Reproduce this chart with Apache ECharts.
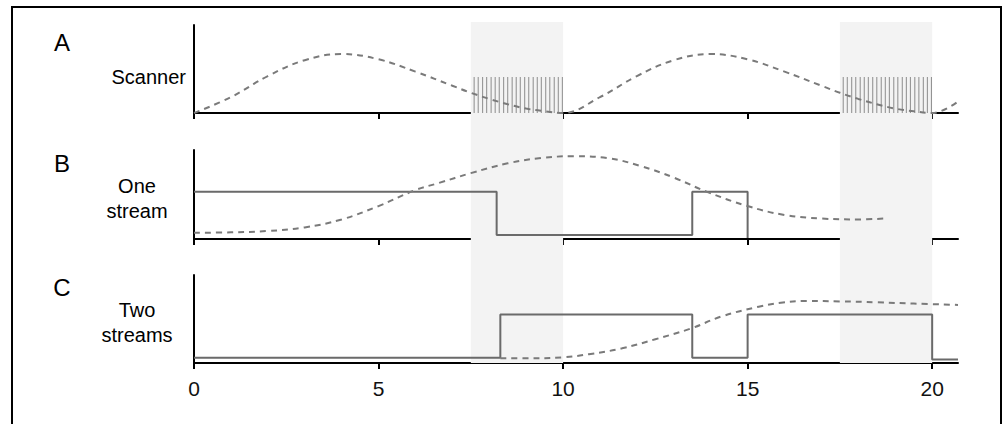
<!DOCTYPE html>
<html><head><meta charset="utf-8">
<script src="https://cdn.jsdelivr.net/npm/echarts@6/dist/echarts.min.js"></script>
<style>html,body{margin:0;padding:0;background:#fff}#c{width:1005px;height:424px}</style>
</head><body><div id="c"></div>
<script>
var tickValues = [0, 5, 10, 15, 20];
var scanWindows = [[7.5, 10], [17.5, 20]];
var scanNames = ['Scan X', 'Scan Y'];
// Panel A: scanner motion (dashed)
var scannerCurve = [[0,0],[1,0.18],[2,0.42],[3,0.6],[4,0.67],[5,0.61],[6,0.47],[7,0.31],[7.5,0.23],[8,0.16],[8.5,0.1],[9,0.05],[9.5,0.02],[10,0],
  [11,0.18],[12,0.42],[13,0.6],[14,0.67],[15,0.61],[16,0.47],[17,0.31],[17.5,0.23],[18,0.16],[18.5,0.1],[19,0.05],[19.5,0.02],[20,0],[20.7,0.13]];
// Panel A: acquisition pulses
var pulsesX = [7.59,7.70,7.82,7.93,8.05,8.16,8.27,8.39,8.50,8.62,8.73,8.84,8.96,9.07,9.19,9.30,9.41,9.53,9.64,9.76,9.87,9.98];
var pulsesY = [17.59,17.70,17.82,17.93,18.05,18.16,18.27,18.39,18.50,18.62,18.73,18.84,18.96,19.07,19.19,19.30,19.41,19.53,19.64,19.76,19.87,19.98];
var pulseHeight = 0.41;
// Panel B: one stream
var oneStreamStep = [[0,0.53],[8.2,0.53],[8.2,0.045],[13.5,0.045],[13.5,0.53],[15,0.53],[15,0.01]];
var oneStreamCurve = [[0,0.07],[1,0.075],[2,0.09],[3,0.13],[4,0.22],[5,0.37],[6,0.55],[6.64,0.63],[7.5,0.74],[8.5,0.85],[9.4,0.91],[10.3,0.93],[11.2,0.91],[12.1,0.82],[13,0.69],[13.9,0.53],[15,0.37],[16,0.27],[17,0.23],[18,0.22],[18.7,0.23]];
// Panel C: two streams
var twoStreamStep = [[0,0.06],[8.3,0.06],[8.3,0.55],[13.5,0.55],[13.5,0.06],[15,0.06],[15,0.55],[20,0.55],[20,0.04],[20.7,0.04]];
var twoStreamCurve = [[8.3,0.053],[9,0.053],[10,0.065],[10.7,0.1],[11.6,0.167],[12.5,0.27],[13.45,0.39],[14.3,0.53],[15.3,0.64],[15.9,0.685],[16.6,0.705],[17.5,0.7],[18.5,0.69],[19.5,0.675],[20.7,0.66]];
var panelLetters = ['A', 'B', 'C'];
var panelNames = ['Scanner', 'One\nstream', 'Two\nstreams'];

var chart = echarts.init(document.getElementById('c'), null, {renderer: 'svg'});
var L = 194, R = 47;
var grids = [
  {left: L, right: R, top: 25, height: 88},
  {left: L, right: R, top: 150, height: 89},
  {left: L, right: R, top: 275, height: 88},
  {left: L, right: R, top: 22, height: 341}
];
var font = 'Liberation Sans, Arial, sans-serif';
function xAx(i, showLabels) {
  return {
    type: 'value', gridIndex: i, min: 0, max: 20.7,
    show: i < 3,
    axisLine: {show: true, onZero: false, lineStyle: {color: '#000', width: 2}},
    axisTick: {show: true, length: 6, lineStyle: {color: '#000', width: 2}, customValues: tickValues},
    axisLabel: {show: showLabels, customValues: tickValues, color: '#111', fontSize: 21, fontFamily: font, margin: 15},
    splitLine: {show: false}
  };
}
function yAx(i) {
  return {
    type: 'value', gridIndex: i, min: 0, max: 1, show: i < 3,
    axisLine: {show: true, lineStyle: {color: '#000', width: 2}},
    axisTick: {show: false}, axisLabel: {show: false}, splitLine: {show: false}
  };
}
var dashStyle = {color: '#7a7a7a', width: 2, type: [6, 5]};
var stepStyle = {color: '#6a6a6a', width: 2};
var series = [
  {
    type: 'line', xAxisIndex: 3, yAxisIndex: 3, data: [], z: -5, silent: true,
    markArea: {silent: true, itemStyle: {color: '#f3f3f3'},
      data: scanWindows.map(function (w) { return [{xAxis: w[0]}, {xAxis: w[1]}]; })}
  },
  {
    type: 'bar', xAxisIndex: 0, yAxisIndex: 0, barWidth: 1, silent: true,
    itemStyle: {color: '#8c8c8c'},
    data: pulsesX.concat(pulsesY).map(function (x) { return [x, pulseHeight]; })
  },
  {type: 'line', xAxisIndex: 0, yAxisIndex: 0, data: scannerCurve, smooth: 0.4, symbol: 'none', lineStyle: dashStyle},
  {type: 'line', xAxisIndex: 1, yAxisIndex: 1, data: oneStreamStep, symbol: 'none', lineStyle: stepStyle},
  {type: 'line', xAxisIndex: 1, yAxisIndex: 1, data: oneStreamCurve, smooth: 0.4, symbol: 'none', lineStyle: dashStyle},
  {type: 'line', xAxisIndex: 2, yAxisIndex: 2, data: twoStreamStep, symbol: 'none', lineStyle: stepStyle},
  {type: 'line', xAxisIndex: 2, yAxisIndex: 2, data: twoStreamCurve, smooth: 0.4, symbol: 'none', lineStyle: dashStyle}
];
var letterY = [42, 163, 287];
var nameY = [77, 198, 322];
var graphics = [{
  type: 'rect', shape: {x: 12, y: 7, width: 989, height: 430}, silent: true,
  style: {fill: 'none', stroke: '#000', lineWidth: 2}
}];
panelLetters.forEach(function (t, i) {
  graphics.push({type: 'text', x: 62, y: letterY[i], style: {text: t, font: '24px ' + font, fill: '#000', align: 'center', verticalAlign: 'middle'}});
});
panelNames.forEach(function (t, i) {
  graphics.push({type: 'text', x: i === 0 ? 186 : 137, y: nameY[i], style: {text: t, font: '20px ' + font, fill: '#000', align: i === 0 ? 'right' : 'center', verticalAlign: 'middle', lineHeight: 25}});
});
var option = {
  animation: false,
  grid: grids,
  xAxis: [xAx(0, false), xAx(1, false), xAx(2, true), xAx(3, false)],
  yAxis: [yAx(0), yAx(1), yAx(2), yAx(3)],
  series: series,
  graphic: graphics
};
chart.setOption(option);
// Scan window titles placed via axis scale
scanNames.forEach(function (n, i) {
  var mid = (scanWindows[i][0] + scanWindows[i][1]) / 2;
  var px = chart.convertToPixel({xAxisIndex: 3}, mid);
  graphics.push({type: 'text', x: px, y: 42, style: {text: n, font: '20px ' + font, fill: '#000', align: 'center', verticalAlign: 'middle'}});
});
chart.setOption({graphic: graphics});
</script></body></html>
